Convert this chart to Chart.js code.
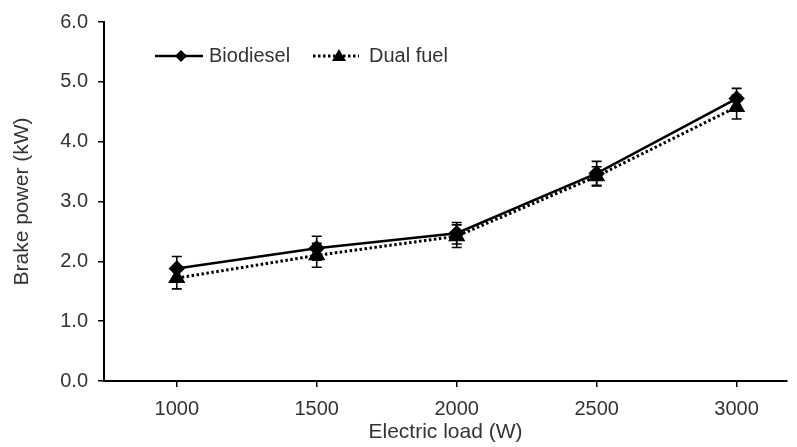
<!DOCTYPE html>
<html>
<head>
<meta charset="utf-8">
<script src="https://cdn.jsdelivr.net/npm/chart.js@4/dist/chart.umd.min.js"></script>
<style>
  html, body { margin: 0; padding: 0; background: #fff; }
  #wrap { width: 797px; height: 447px; position: relative; }
</style>
</head>
<body>
<div id="wrap"><canvas id="brakeChart"></canvas></div>
<script>
// data
const loads = [1000, 1500, 2000, 2500, 3000];
const biodiesel = [1.88, 2.22, 2.47, 3.47, 4.72];
const biodieselErr = [0.20, 0.20, 0.18, 0.20, 0.17];
const dualFuel = [1.72, 2.10, 2.42, 3.42, 4.58];
const dualFuelErr = [0.18, 0.20, 0.19, 0.16, 0.20];
const yTicks = [0, 1, 2, 3, 4, 5, 6];

const FONT = "'Liberation Sans', Arial, sans-serif";
const TXT = '#333';

// error bars, drawn through the chart's scales
const errorBars = {
  id: 'errorBars',
  afterDatasetsDraw(chart) {
    const ctx = chart.ctx, xs = chart.scales.x, ys = chart.scales.y;
    const errs = [biodieselErr, dualFuelErr];
    ctx.save();
    ctx.strokeStyle = '#000';
    ctx.lineWidth = 1.6;
    chart.data.datasets.forEach((ds, i) => {
      ds.data.forEach((p, j) => {
        const x = xs.getPixelForValue(p.x);
        const yTop = ys.getPixelForValue(p.y + errs[i][j]);
        const yBot = ys.getPixelForValue(p.y - errs[i][j]);
        ctx.beginPath();
        ctx.moveTo(x, yTop); ctx.lineTo(x, yBot);
        ctx.moveTo(x - 5, yTop); ctx.lineTo(x + 5, yTop);
        ctx.moveTo(x - 5, yBot); ctx.lineTo(x + 5, yBot);
        ctx.stroke();
      });
    });
    ctx.restore();
  }
};

// legend inside the plot, line + marker samples
const insideLegend = {
  id: 'insideLegend',
  afterDraw(chart) {
    const ctx = chart.ctx;
    const y = 56;
    ctx.save();
    ctx.strokeStyle = '#000';
    ctx.fillStyle = '#000';
    // biodiesel
    ctx.lineWidth = 2.5;
    ctx.beginPath(); ctx.moveTo(155, y); ctx.lineTo(203, y); ctx.stroke();
    ctx.beginPath();
    ctx.moveTo(181, y - 6); ctx.lineTo(187, y); ctx.lineTo(181, y + 6); ctx.lineTo(175, y);
    ctx.closePath(); ctx.fill();
    // dual fuel
    ctx.lineWidth = 3;
    ctx.setLineDash([2.5, 2.5]);
    ctx.beginPath(); ctx.moveTo(313, y); ctx.lineTo(359, y); ctx.stroke();
    ctx.setLineDash([]);
    ctx.beginPath();
    ctx.moveTo(339, y - 7); ctx.lineTo(346, y + 5); ctx.lineTo(332, y + 5);
    ctx.closePath(); ctx.fill();
    ctx.font = '20px ' + FONT;
    ctx.fillStyle = TXT;
    ctx.textBaseline = 'middle';
    ctx.fillText('Biodiesel', 209, y);
    ctx.fillText('Dual fuel', 369, y);
    ctx.restore();
  }
};

new Chart(document.getElementById('brakeChart'), {
  type: 'line',
  data: {
    datasets: [{
      label: 'Biodiesel',
      data: loads.map((x, i) => ({ x: x, y: biodiesel[i] })),
      borderColor: '#000',
      backgroundColor: '#000',
      borderWidth: 2.5,
      pointStyle: 'rectRot',
      pointRadius: 6.5,
      pointHoverRadius: 6.5,
      tension: 0
    }, {
      label: 'Dual fuel',
      data: loads.map((x, i) => ({ x: x, y: dualFuel[i] })),
      borderColor: '#000',
      backgroundColor: '#000',
      borderWidth: 3,
      borderDash: [2.5, 2.5],
      pointStyle: 'triangle',
      pointRadius: 7,
      pointHoverRadius: 7,
      tension: 0
    }]
  },
  options: {
    responsive: true,
    maintainAspectRatio: false,
    animation: false,
    layout: { padding: { left: 0, right: 7, top: 20, bottom: 0 } },
    plugins: {
      legend: { display: false },
      tooltip: { enabled: false }
    },
    scales: {
      x: {
        type: 'linear',
        min: 740,
        max: 3180,
        afterBuildTicks: (axis) => { axis.ticks = loads.map(v => ({ value: v })); },
        afterFit: (axis) => { axis.height = 66; },
        ticks: {
          callback: (v) => String(v),
          color: TXT,
          font: { family: FONT, size: 20 },
          padding: 10
        },
        grid: { drawOnChartArea: false, drawTicks: true, tickLength: 6, color: '#000', lineWidth: 1.5 },
        border: { display: true, color: '#000', width: 2 },
        title: {
          display: true,
          text: 'Electric load (W)',
          color: TXT,
          font: { family: FONT, size: 21 },
          padding: { top: 0, bottom: 2 }
        }
      },
      y: {
        min: 0,
        max: 6,
        afterBuildTicks: (axis) => { axis.ticks = yTicks.map(v => ({ value: v })); },
        afterFit: (axis) => { axis.width = 104; },
        ticks: {
          callback: (v) => v.toFixed(1),
          color: TXT,
          font: { family: FONT, size: 20 },
          padding: 10
        },
        grid: { drawOnChartArea: false, drawTicks: true, tickLength: 6, color: '#000', lineWidth: 1.5 },
        border: { display: true, color: '#000', width: 2 },
        title: {
          display: true,
          text: 'Brake power (kW)',
          color: TXT,
          font: { family: FONT, size: 21 },
          padding: { top: 10, bottom: 0 }
        }
      }
    }
  },
  plugins: [errorBars, insideLegend]
});
</script>
</body>
</html>
